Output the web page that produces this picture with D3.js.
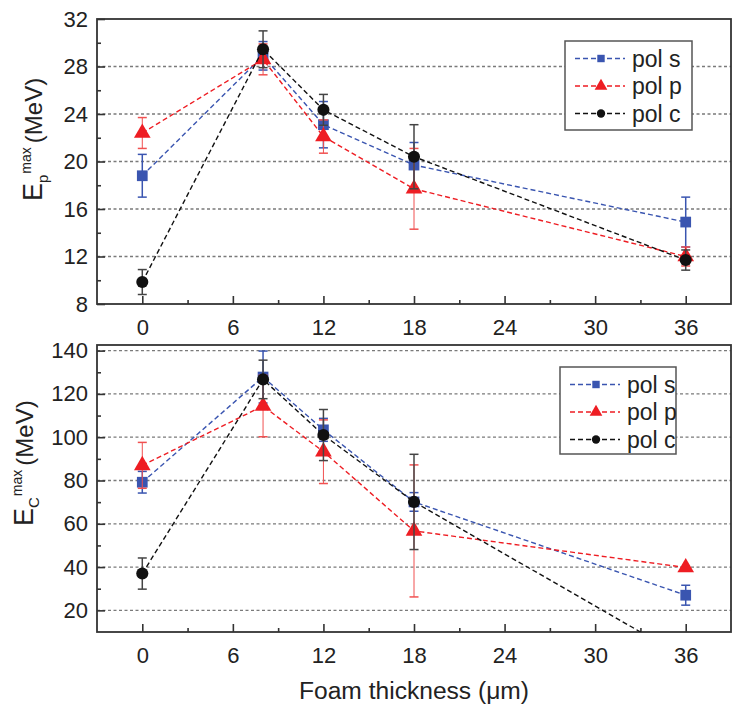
<!DOCTYPE html>
<meta charset="utf-8">
<script src="https://d3js.org/d3.v7.min.js"></script>
<style>
body { margin: 0; background: #fff; }
svg text { font-family: "Liberation Sans", Arial, sans-serif; fill: #222; }
</style>
<div id="chart"></div>
<script>
// data
var thickness = [0, 8, 12, 18, 36];
var seriesNames = ["pol s", "pol p", "pol c"];

// top panel: Ep max (MeV)
var epS = [18.8, 28.9, 23.1, 19.7, 14.9];
var epSErr = [1.8, 1.2, 1.95, 1.9, 2.1];
var epP = [22.4, 28.6, 22.1, 17.7, 12.0];
var epPErr = [1.3, 1.3, 1.4, 3.4, 0.8];
var epC = [9.85, 29.45, 24.35, 20.4, 11.7];
var epCErr = [1.05, 1.55, 1.3, 2.7, 0.85];

// bottom panel: Ec max (MeV)
var ecS = [79.2, 127.8, 103.4, 70.1, 27.0];
var ecSErr = [5.0, 12, 5.3, 4.3, 4.6];
var ecP = [87, 114.4, 93.3, 56.7, 39.8];
var ecPErr = [10.6, 14.2, 14.7, 30.5, 0];
var ecC = [37.0, 126.7, 101, 70.1, -2];
var ecCErr = [7.2, 8.9, 11.8, 22, 6];

var xTicks = [0, 6, 12, 18, 24, 30, 36];
var epTicks = [8, 12, 16, 20, 24, 28, 32];
var ecTicks = [20, 40, 60, 80, 100, 120, 140];

var width = 733, height = 706;
var colors = {"pol s": "#3a55b0", "pol p": "#ee1d23", "pol c": "#111"};
var barColors = {"pol s": "#3a55b0", "pol p": "#f05050", "pol c": "#444"};
var shapes = {"pol s": d3.symbolSquare, "pol p": d3.symbolTriangle, "pol c": d3.symbolCircle};

var svg = d3.select("#chart").append("svg")
  .attr("width", width)
  .attr("height", height);

var x = d3.scaleLinear().domain([-3, 39]).range([97, 731]);

function panel(opts) {
  var y = d3.scaleLinear().domain(opts.domain).range([opts.bottom, opts.top]);
  var g = svg.append("g");

  var clipId = "clip" + opts.id;
  svg.append("clipPath").attr("id", clipId)
    .append("rect")
    .attr("x", x.range()[0]).attr("y", opts.top)
    .attr("width", x.range()[1] - x.range()[0])
    .attr("height", opts.bottom - opts.top);

  // grid lines
  g.selectAll(".grid")
    .data(opts.grid)
    .enter().append("line")
    .attr("x1", x.range()[0]).attr("x2", x.range()[1])
    .attr("y1", function(d) { return y(d); })
    .attr("y2", function(d) { return y(d); })
    .attr("stroke", "#7a7a7a")
    .attr("stroke-width", 1.3)
    .attr("stroke-dasharray", "3,2.5");

  // axes with inward ticks
  var yMinor = [];
  for (var i = 0; i < opts.ticks.length - 1; i++) yMinor.push((opts.ticks[i] + opts.ticks[i + 1]) / 2);
  var xMinor = [];
  for (var j = 0; j < xTicks.length - 1; j++) xMinor.push((xTicks[j] + xTicks[j + 1]) / 2);

  var yAx = g.append("g")
    .attr("transform", "translate(" + x.range()[0] + ",0)")
    .call(d3.axisLeft(y).tickValues(opts.ticks).tickSize(-8).tickPadding(9));
  g.append("g")
    .attr("transform", "translate(" + x.range()[0] + ",0)")
    .call(d3.axisLeft(y).tickValues(yMinor).tickSize(-4).tickFormat(""));
  var xAx = g.append("g")
    .attr("transform", "translate(0," + opts.bottom + ")")
    .call(d3.axisBottom(x).tickValues(xTicks).tickSize(-8).tickPadding(15));
  g.append("g")
    .attr("transform", "translate(0," + opts.bottom + ")")
    .call(d3.axisBottom(x).tickValues(xMinor).tickSize(-4).tickFormat(""));

  g.selectAll(".domain").remove();
  g.selectAll(".tick line").attr("stroke", "#333").attr("stroke-width", 1.6);
  yAx.selectAll("text").attr("font-size", 22).attr("fill", "#1a1a1a")
    .attr("font-family", "Liberation Sans, Arial, sans-serif");
  xAx.selectAll("text").attr("font-size", 22).attr("fill", "#1a1a1a")
    .attr("font-family", "Liberation Sans, Arial, sans-serif");

  // frame
  g.append("rect")
    .attr("x", x.range()[0]).attr("y", opts.top)
    .attr("width", x.range()[1] - x.range()[0])
    .attr("height", opts.bottom - opts.top)
    .attr("fill", "none")
    .attr("stroke", "#333")
    .attr("stroke-width", 1.8);

  // series
  var plot = g.append("g").attr("clip-path", "url(#" + clipId + ")");
  opts.series.forEach(function(s) {
    var pts = thickness.map(function(t, k) { return {x: t, y: s.values[k], e: s.errs[k]}; });

    plot.append("path")
      .datum(pts)
      .attr("fill", "none")
      .attr("stroke", colors[s.name])
      .attr("stroke-width", 1.4)
      .attr("stroke-dasharray", "5,3")
      .attr("d", d3.line().x(function(d) { return x(d.x); }).y(function(d) { return y(d.y); }));

    var eb = plot.append("g");
    pts.filter(function(d) { return d.e > 0; }).forEach(function(d) {
      eb.append("line")
        .attr("x1", x(d.x)).attr("x2", x(d.x))
        .attr("y1", y(d.y - d.e)).attr("y2", y(d.y + d.e))
        .attr("stroke", barColors[s.name]).attr("stroke-width", s.name == "pol p" ? 1 : 1.5);
      [d.y - d.e, d.y + d.e].forEach(function(v) {
        eb.append("line")
          .attr("x1", x(d.x) - 4.5).attr("x2", x(d.x) + 4.5)
          .attr("y1", y(v)).attr("y2", y(v))
          .attr("stroke", barColors[s.name]).attr("stroke-width", 1.5);
      });
    });

    plot.selectAll(null)
      .data(pts)
      .enter().append("path")
      .attr("transform", function(d) { return "translate(" + x(d.x) + "," + y(d.y) + ")"; })
      .attr("d", d3.symbol().type(shapes[s.name]).size(s.name == "pol p" ? 120 : 115))
      .attr("fill", colors[s.name]);
  });

  // legend
  var lg = g.append("g");
  lg.append("rect")
    .attr("x", opts.legend.x).attr("y", opts.legend.y)
    .attr("width", opts.legend.w).attr("height", opts.legend.h)
    .attr("fill", "#fff")
    .attr("stroke", "#555")
    .attr("stroke-width", 1.5);
  opts.series.forEach(function(s, k) {
    var ly = opts.legend.y + 17.5 + k * 27.5;
    var lx = opts.legend.x + 10;
    lg.append("line")
      .attr("x1", lx).attr("x2", lx + 50)
      .attr("y1", ly).attr("y2", ly)
      .attr("stroke", colors[s.name])
      .attr("stroke-width", 1.3)
      .attr("stroke-dasharray", "5,3");
    lg.append("path")
      .attr("transform", "translate(" + (lx + 26) + "," + ly + ")")
      .attr("d", d3.symbol().type(shapes[s.name]).size(s.name == "pol p" ? 70 : 55))
      .attr("fill", colors[s.name]);
    lg.append("text")
      .attr("x", lx + 57).attr("y", ly)
      .attr("dy", "0.35em")
      .attr("font-size", 23)
      .text(s.name);
  });

  // y label
  var yl = svg.append("text")
    .attr("transform", "translate(" + opts.labelX + "," + opts.labelY + ") rotate(-90)")
    .attr("font-size", 24);
  yl.append("tspan").attr("font-size", 27).text("E");
  yl.append("tspan").attr("font-size", 15).attr("dy", 6).text(opts.sub);
  yl.append("tspan").attr("font-size", 14).attr("dx", 1).attr("dy", -17).text("max");
  yl.append("tspan").attr("dy", 11).attr("dx", 4).text("(MeV)");
}

panel({
  id: "ep", top: 19, bottom: 304, domain: [8, 32],
  ticks: epTicks, grid: [12, 16, 20, 24, 28],
  series: [
    {name: "pol s", values: epS, errs: epSErr},
    {name: "pol p", values: epP, errs: epPErr},
    {name: "pol c", values: epC, errs: epCErr}
  ],
  legend: {x: 565, y: 41, w: 127, h: 89},
  labelX: 42, labelY: 201, sub: "p"
});

panel({
  id: "ec", top: 345, bottom: 632, domain: [10, 142.6],
  ticks: ecTicks, grid: [20, 40, 60, 80, 100, 120, 140],
  series: [
    {name: "pol s", values: ecS, errs: ecSErr},
    {name: "pol p", values: ecP, errs: ecPErr},
    {name: "pol c", values: ecC, errs: ecCErr}
  ],
  legend: {x: 560, y: 367, w: 116, h: 87},
  labelX: 33, labelY: 526, sub: "C"
});

// x axis title
svg.append("text")
  .attr("x", 414).attr("y", 699)
  .attr("text-anchor", "middle")
  .attr("font-size", 23)
  .attr("textLength", 230)
  .attr("lengthAdjust", "spacingAndGlyphs")
  .text("Foam thickness (\u03bcm)");
</script>
